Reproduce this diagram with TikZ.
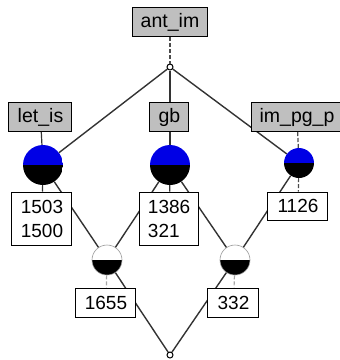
\documentclass[tikz,border=0pt]{standalone}
\usepackage{fontspec}
\setmainfont{Liberation Sans}
\begin{document}
\begin{tikzpicture}[x=1pt,y=-1pt,
  edge/.style={draw=black!80,line width=1.4pt},
  tick/.style={draw=black!80,line width=1.2pt},
  dtick/.style={draw=black!70,line width=1.2pt,dash pattern=on 4pt off 2pt},
  lbl/.style={draw=black,line width=1pt,fill=black!25,inner sep=0pt,minimum height=29pt,font=\fontsize{19.5}{24}\selectfont},
  ext/.style={draw=black,line width=1pt,fill=white,inner sep=0pt,font=\fontsize{19}{24}\selectfont},
  bigc/.style={circle,inner sep=0pt,minimum size=#1,
    path picture={\fill[blue!90!black] (path picture bounding box.north west) rectangle (path picture bounding box.east);
                  \fill[black] (path picture bounding box.west) rectangle (path picture bounding box.south east);}},
  lowc/.style={circle,inner sep=0pt,minimum size=30pt,draw=black!40,line width=0.6pt,
    path picture={\fill[white] (path picture bounding box.north west) rectangle (path picture bounding box.east);
                  \fill[black] (path picture bounding box.west) rectangle (path picture bounding box.south east);}},
  dot/.style={circle,draw=black,line width=1pt,fill=white,inner sep=0pt,minimum size=6pt}]
\useasboundingbox (0,0) rectangle (340,360);
% concept nodes
\node[dot] (top) at (170,67) {};
\node[bigc=40pt] (cl) at (43,165) {};
\node[bigc=40pt] (cg) at (170,165) {};
\node[bigc=30pt] (ci) at (299,163) {};
\node[lowc] (ll) at (107,260) {};
\node[lowc] (lr) at (235,260) {};
\node[dot] (bot) at (170,355) {};
% label positions
\path (170,22) coordinate (pa) (40.5,117) coordinate (pl) (169.5,117) coordinate (pg) (297,117) coordinate (pi);
% edges
\draw[edge] (top) -- (cl);
\draw[edge] (top) -- (cg);
\draw[edge] (top) -- (ci);
\draw[edge] (cl) -- (ll);
\draw[edge] (cg) -- (ll);
\draw[edge] (cg) -- (lr);
\draw[edge] (ci) -- (lr);
\draw[edge] (ll) -- (bot);
\draw[edge] (lr) -- (bot);
% attribute labels
\node[lbl,minimum width=75pt] (la) at (pa) {ant\_im};
\node[lbl,minimum width=63pt] (ll1) at (pl) {let\_is};
\node[lbl,minimum width=39pt] (lg) at (pg) {gb};
\node[lbl,minimum width=90pt] (li) at (pi) {im\_pg\_p};
\draw[dtick] (la) -- (top);
\draw[tick] (ll1) -- (cl);
\draw[tick] (lg) -- (cg);
\draw[dtick] (li) -- (ci);
% object extents
\node[ext,minimum width=60pt,minimum height=53pt,align=left] (e1) at (42,218.5) {1503\\1500};
\node[ext,minimum width=59pt,minimum height=53pt,align=left,text width=43pt] (e2) at (169.5,218.5) {1386\\321};
\node[ext,minimum width=60pt,minimum height=28pt] (e3) at (298,206) {1126};
\node[ext,minimum width=60pt,minimum height=29pt] (e4) at (106,302.5) {1655};
\node[ext,minimum width=51pt,minimum height=29pt] (e5) at (233.5,302.5) {332};
\draw[tick] (cl) -- (e1);
\draw[tick] (cg) -- (e2);
\draw[dtick] (ci) -- (e3);
\draw[dtick,draw=black!35] (ll) -- (e4);
\draw[dtick,draw=black!35] (lr) -- (e5);
\end{tikzpicture}
\end{document}
